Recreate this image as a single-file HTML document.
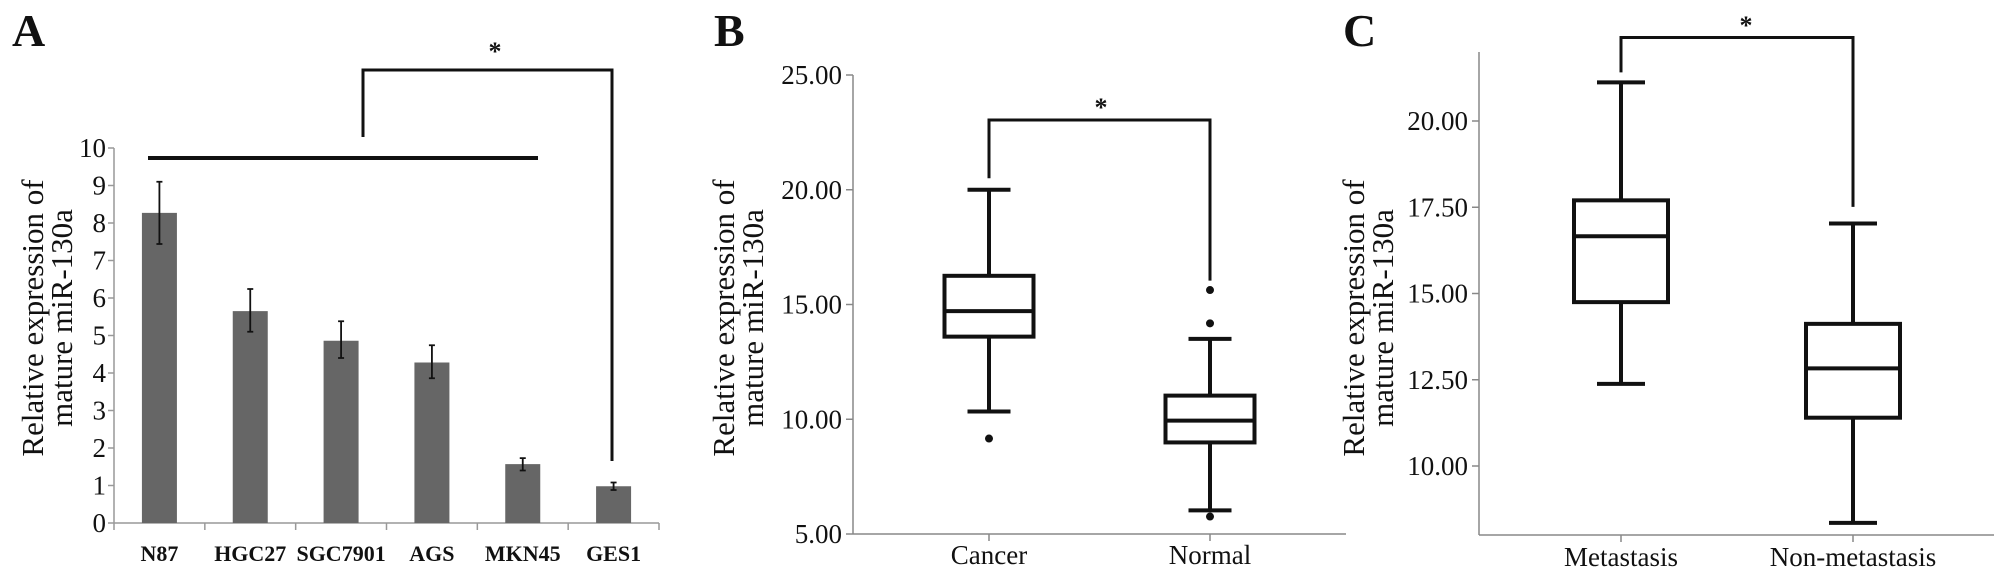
<!DOCTYPE html>
<html><head><meta charset="utf-8"><style>
html,body{margin:0;padding:0;background:#fff;}
svg{display:block;font-family:"Liberation Serif",serif;}
svg text{font-family:"Liberation Serif",serif;}
</style></head><body>
<svg id="fig" width="2008" height="578" viewBox="0 0 2008 578"></svg>
<script>
// Panel A data
const catsA = ["N87","HGC27","SGC7901","AGS","MKN45","GES1"];
const valsA = [8.27,5.65,4.86,4.28,1.57,0.98];
const errHiA = [9.1,6.24,5.38,4.74,1.73,1.08];
const errLoA = [7.44,5.1,4.4,3.86,1.4,0.88];
const ticksA = [0,1,2,3,4,5,6,7,8,9,10];
// Panel B data
const catsB = ["Cancer","Normal"];
const whiskHiB = [20.0,13.5];
const q3B = [16.25,11.03];
const medB = [14.71,9.94];
const q1B = [13.6,8.99];
const whiskLoB = [10.34,6.03];
const outliersB = [[9.16],[15.63,14.18,5.76]];
const ticksB = ["5.00","10.00","15.00","20.00","25.00"];
// Panel C data
const catsC = ["Metastasis","Non-metastasis"];
const whiskHiC = [21.12,17.03];
const q3C = [17.7,14.12];
const medC = [16.66,12.83];
const q1C = [14.75,11.4];
const whiskLoC = [12.38,8.35];
const ticksC = ["10.00","12.50","15.00","17.50","20.00"];

const svg = document.getElementById('fig');
const NS = "http://www.w3.org/2000/svg";
function mk(tag, attrs, parent){
  const e = document.createElementNS(NS, tag);
  for (const k in attrs) e.setAttribute(k, attrs[k]);
  (parent||svg).appendChild(e);
  return e;
}
function txt(x,y,s,size,weight,anchor,parent){
  const t = mk('text',{x:x,y:y,'font-size':size,'font-weight':weight||'normal','text-anchor':anchor||'middle',fill:'#111','font-family':'Liberation Serif, serif'},parent);
  t.textContent = s;
  return t;
}
function ytitle(g,cx,cy){
  const t = mk('text',{transform:`translate(${cx},${cy}) rotate(-90)`,'font-size':31,'text-anchor':'middle',fill:'#111','font-family':'Liberation Serif, serif'},g);
  const a = mk('tspan',{x:0,y:-4},t); a.textContent='Relative expression of';
  const b = mk('tspan',{x:0,y:25},t); b.textContent='mature miR-130a';
  return t;
}

// ---------- Panel A ----------
const gA = mk('g',{});


const yA = v => 523 - v*37.5;
const axA0 = 114, axA1 = 659;
const bandA = (axA1-axA0)/catsA.length;
const xA = i => axA0 + bandA*(i+0.5);
const lblA = txt(12,46,"A",46,'bold','start',gA);


let l = mk('line',{x1:axA0,y1:yA(10),x2:axA0,y2:yA(0),stroke:'#999','stroke-width':1.5},gA);
 
l = mk('line',{x1:axA0,y1:yA(0),x2:axA1,y2:yA(0),stroke:'#999','stroke-width':1.5},gA);
 
ticksA.forEach(t=>{
  mk('line',{x1:axA0-6,y1:yA(t),x2:axA0,y2:yA(t),stroke:'#999','stroke-width':1.5},gA);
  const tl = txt(axA0-8,yA(t)+9,String(t),27,'normal','end',gA);
  
  
});
for(let i=0;i<=catsA.length;i++){
  mk('line',{x1:axA0+bandA*i,y1:yA(0),x2:axA0+bandA*i,y2:yA(0)+7,stroke:'#999','stroke-width':1.5},gA);
}
catsA.forEach((c,i)=>{
  const b = mk('rect',{x:xA(i)-17.5,y:yA(valsA[i]),width:35,height:yA(0)-yA(valsA[i]),fill:'#666'},gA);
  
  
  const e = mk('path',{d:`M${xA(i)},${yA(errHiA[i])}V${yA(errLoA[i])}M${xA(i)-3},${yA(errHiA[i])}h6M${xA(i)-3},${yA(errLoA[i])}h6`,stroke:'#111','stroke-width':1.8,fill:'none'},gA);
  
  
  const xl = txt(xA(i),561,c,22,'bold','middle',gA);
  
  
});
const ytA = ytitle(gA,47,318);


l = mk('line',{x1:148,y1:158,x2:538,y2:158,stroke:'#111','stroke-width':4},gA);
 
l = mk('path',{d:'M363,137V70H612V461',stroke:'#111','stroke-width':3,fill:'none'},gA);
 
l = txt(495,60,"*",26,'bold','middle',gA);
 

// ---------- Box plot helper ----------
function boxPanel(name, g, yF, xs, boxW, capW, hi, q3, med, q1, lo){
  xs.forEach((x,i)=>{
    const w = mk('path',{d:`M${x},${yF(hi[i])}V${yF(q3[i])}M${x},${yF(q1[i])}V${yF(lo[i])}M${x-capW/2},${yF(hi[i])}h${capW}M${x-capW/2},${yF(lo[i])}h${capW}`,stroke:'#111','stroke-width':4,fill:'none'},g);
    
    
    const b = mk('rect',{x:x-boxW/2,y:yF(q3[i]),width:boxW,height:yF(q1[i])-yF(q3[i]),fill:'#fff',stroke:'#111','stroke-width':4},g);
    
    
    const m = mk('line',{x1:x-boxW/2,y1:yF(med[i]),x2:x+boxW/2,y2:yF(med[i]),stroke:'#111','stroke-width':4},g);
    
    
  });
}

// ---------- Panel B ----------
const gB = mk('g',{});


const yB = v => 534 - (v-5)*22.95;
const xsB = [989,1210];
l = txt(714,46,"B",46,'bold','start',gB);
 
l = mk('line',{x1:853,y1:yB(25),x2:853,y2:yB(5),stroke:'#888','stroke-width':1.5},gB);
 
l = mk('line',{x1:853,y1:yB(5),x2:1346,y2:yB(5),stroke:'#888','stroke-width':1.5},gB);
 
ticksB.forEach(t=>{
  const v = parseFloat(t);
  mk('line',{x1:846,y1:yB(v),x2:853,y2:yB(v),stroke:'#888','stroke-width':1.5},gB);
  const tl = txt(842,yB(v)+9,t,27,'normal','end',gB);
  
  
});
catsB.forEach((c,i)=>{
  mk('line',{x1:xsB[i],y1:yB(5),x2:xsB[i],y2:yB(5)+7,stroke:'#888','stroke-width':1.5},gB);
  const xl = txt(xsB[i],564,c,27,'normal','middle',gB);
  
  
});
boxPanel('b',gB,yB,xsB,89,43,whiskHiB,q3B,medB,q1B,whiskLoB);
outliersB.forEach((arr,i)=>arr.forEach(v=>{
  const o = mk('circle',{cx:xsB[i],cy:yB(v),r:4,fill:'#111'},gB);
  
  
}));
const ytB = ytitle(gB,738,318);


l = mk('path',{d:`M${xsB[0]},${yB(20.5)}V${yB(23.04)}H${xsB[1]}V${yB(16.04)}`,stroke:'#111','stroke-width':3,fill:'none'},gB);
 
l = txt(1101,116,"*",26,'bold','middle',gB);
 

// ---------- Panel C ----------
const gC = mk('g',{});


const yC = v => 466 - (v-10)*34.5;
const xsC = [1621,1853];
l = txt(1343,46,"C",46,'bold','start',gC);
 
l = mk('line',{x1:1479,y1:52,x2:1479,y2:535,stroke:'#888','stroke-width':1.5},gC);
 
l = mk('line',{x1:1479,y1:535,x2:1994,y2:535,stroke:'#888','stroke-width':1.5},gC);
 
ticksC.forEach(t=>{
  const v = parseFloat(t);
  mk('line',{x1:1472,y1:yC(v),x2:1479,y2:yC(v),stroke:'#888','stroke-width':1.5},gC);
  const tl = txt(1468,yC(v)+9,t,27,'normal','end',gC);
  
  
});
catsC.forEach((c,i)=>{
  mk('line',{x1:xsC[i],y1:535,x2:xsC[i],y2:542,stroke:'#888','stroke-width':1.5},gC);
  const xl = txt(xsC[i],566,c,27,'normal','middle',gC);
  
  
});
boxPanel('c',gC,yC,xsC,94,48,whiskHiC,q3C,medC,q1C,whiskLoC);
const ytC = ytitle(gC,1368,318);


l = mk('path',{d:`M${xsC[0]},${yC(21.41)}V${yC(22.42)}H${xsC[1]}V${yC(17.51)}`,stroke:'#111','stroke-width':3,fill:'none'},gC);
 
l = txt(1746,34,"*",26,'bold','middle',gC);
 
</script>
</body></html>
